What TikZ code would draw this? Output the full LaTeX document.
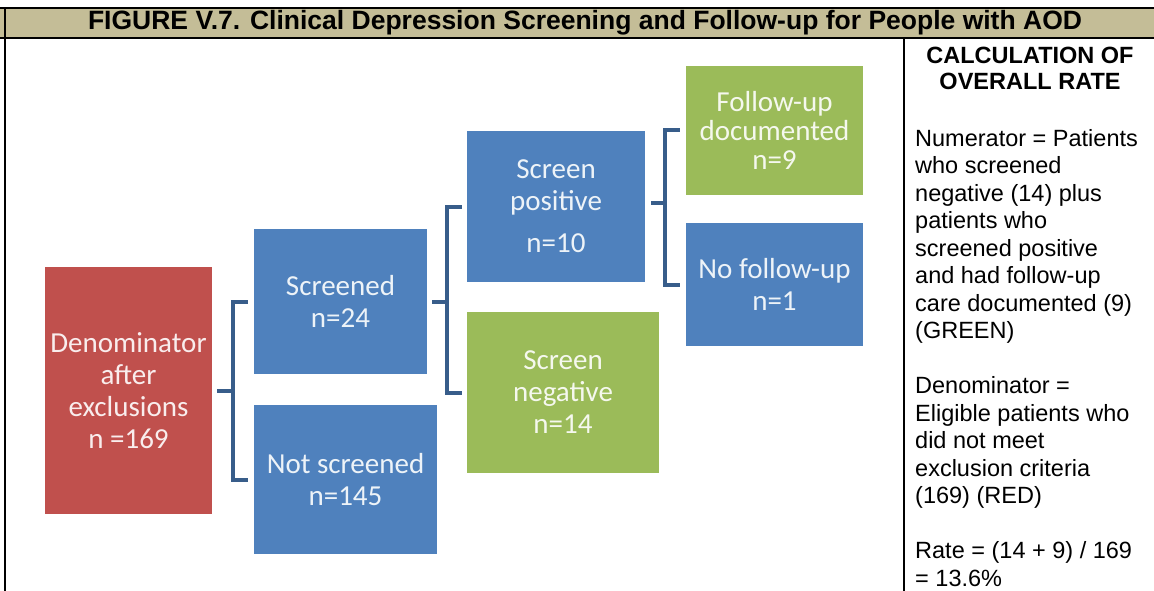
\documentclass[tikz,border=0pt]{standalone}
\usepackage{fontspec}
\setmainfont{Liberation Sans}
\newfontfamily\boxfont{Carlito}
\usepackage{tikz}
\usetikzlibrary{calc}
\definecolor{barkhaki}{RGB}{196,189,151}
\definecolor{boxred}{RGB}{192,80,77}
\definecolor{boxblue}{RGB}{79,129,189}
\definecolor{boxgreen}{RGB}{155,187,89}
\definecolor{brkblue}{RGB}{56,93,138}

\begin{document}
\begin{tikzpicture}[x=1pt,y=-1pt,
box/.style={rectangle, inner sep=0pt, align=center, font=\boxfont\fontsize{29}{32}\selectfont},
brk/.style={brkblue, line width=4pt}]
\useasboundingbox (0,0) rectangle (1154,591);

\fill [barkhaki] (0,8) rectangle (1154,38);
\draw [line width=2pt] (0,8)--(1154,8);
\draw [line width=2pt] (0,38)--(1154,38);
\draw [line width=2.5pt] (5,8)--(5,591);
\draw [line width=2pt] (904,38)--(904,591);

\node [font=\bfseries\fontsize{26.5}{28}\selectfont] (title) at (585,23) {FIGURE V.7. Clinical Depression Screening and Follow-up for People with AOD};

\node [box, fill=boxred, text=boxred!10!white, minimum width=167pt, minimum height=247pt] (denom) at (128.5,390.5) {Denominator\\after\\exclusions\\n =169};
\node [box, fill=boxblue, text=boxblue!10!white, minimum width=173pt, minimum height=145pt] (screened) at (340.5,301.5) {Screened\\n=24};
\node [box, fill=boxblue, text=boxblue!10!white, minimum width=183pt, minimum height=149pt] (notscr) at (345.5,479.5) {Not screened\\n=145};
\node [box, fill=boxblue, text=boxblue!10!white, minimum width=178pt, minimum height=151pt] (scrpos) at (556,206.5) {Screen\\positive\\[10pt]n=10};
\node [box, fill=boxgreen, text=boxgreen!10!white, minimum width=192pt, minimum height=161pt] (scrneg) at (563,392.5) {Screen\\negative\\n=14};
\node [box, fill=boxgreen, text=boxgreen!10!white, minimum width=177pt, minimum height=129pt] (fudoc) at (774.5,130.5) {Follow-up\\[-3pt]documented\\[-3pt]n=9};
\node [box, fill=boxblue, text=boxblue!10!white, minimum width=177pt, minimum height=123pt] (nofu) at (774.5,284.5) {No follow-up\\n=1};

\draw [brk] ($(denom.east)+(5,0)$) -- ++(16,0);
\draw [brk] ($(screened.west)+(-6,0)$) -- ++(-15,0) |- ($(notscr.west)+(-6,0)$);

\draw [brk] ($(screened.east)+(5,0)$) -- ++(15,0);
\draw [brk] ($(scrpos.west)+(-5,0)$) -- ++(-15,0) |- ($(scrneg.west)+(-5,0)$);

\draw [brk] ($(scrpos.east)+(6,-4)$) -- ++(14,0);
\draw [brk] ($(fudoc.west)+(-6,0)$) -- ++(-15,0) |- ($(nofu.west)+(-6,0)$);

\node [anchor=north, align=center, inner sep=0pt, font=\bfseries\fontsize{23.5}{26}\selectfont] (calchead) at (1030,46.5) {CALCULATION OF\\OVERALL RATE};
\node [anchor=north west, align=left, inner sep=0pt, font=\fontsize{23.5}{27.5}\selectfont] (calcbody) at (915,129) {Numerator = Patients\\who screened\\negative (14) plus\\patients who\\screened positive\\and had follow-up\\care documented (9)\\(GREEN)\\[27.5pt]Denominator =\\Eligible patients who\\did not meet\\exclusion criteria\\(169) (RED)\\[27.5pt]Rate = (14 + 9) / 169\\= 13.6\%};

\end{tikzpicture}
\end{document}
